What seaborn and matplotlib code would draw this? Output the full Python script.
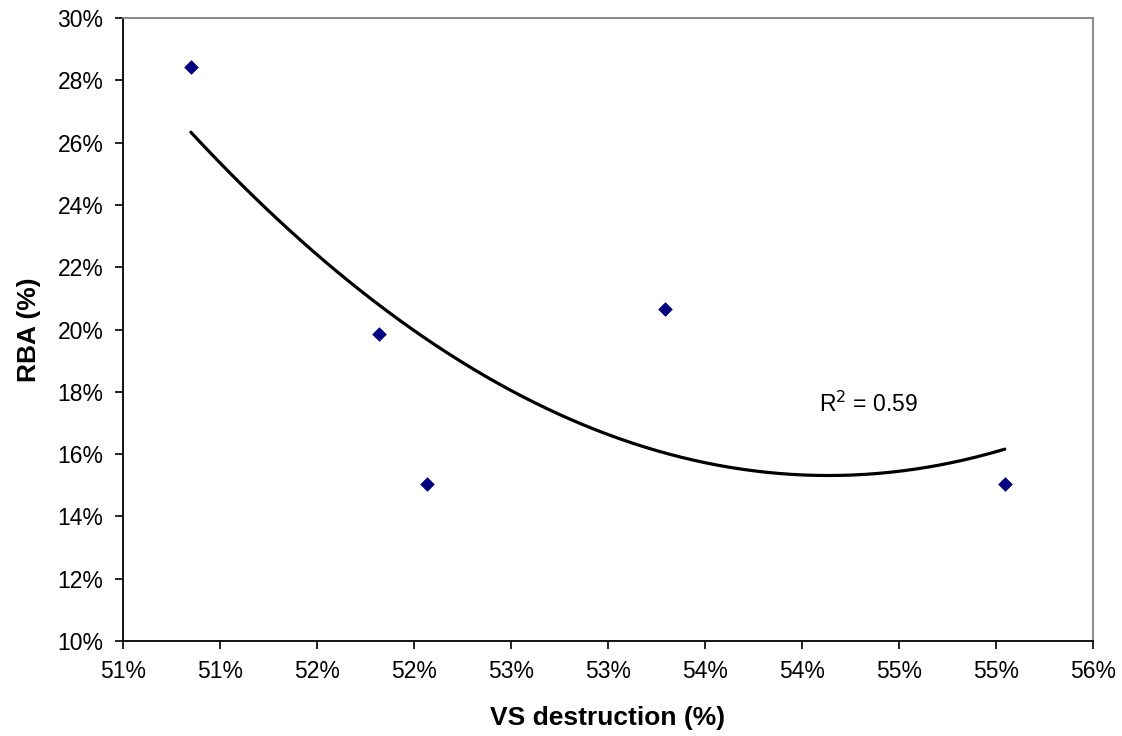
import numpy as np
import pandas as pd
import matplotlib
matplotlib.use("Agg")
import matplotlib.pyplot as plt
import seaborn as sns
from matplotlib.ticker import FuncFormatter

# Data (percent)
vs_destruction = [50.85, 51.82, 52.065, 53.295, 55.045]
rba = [28.43, 19.84, 15.05, 20.65, 15.03]
r2_label = "R$^{2}$ = 0.59"

x_ticks = [50.5, 51.0, 51.5, 52.0, 52.5, 53.0, 53.5, 54.0, 54.5, 55.0, 55.5]
y_ticks = [10, 12, 14, 16, 18, 20, 22, 24, 26, 28, 30]

sns.set_theme(style="white")
plt.rcParams['font.family'] = ['Liberation Sans', 'DejaVu Sans']

df = pd.DataFrame({"x": vs_destruction, "y": rba})
coef = np.polyfit(df.x, df.y, 2)
xs = np.linspace(min(vs_destruction), max(vs_destruction), 200)
fit = pd.DataFrame({"x": xs, "y": np.polyval(coef, xs)})

fig = plt.figure(figsize=(11.22, 7.36), dpi=100)
ax = fig.add_axes([0.1096, 0.1291, 0.9742 - 0.1096, 0.9755 - 0.1291])

sns.lineplot(data=fit, x="x", y="y", ax=ax, color="black", linewidth=2.3, sort=False)
sns.scatterplot(data=df, x="x", y="y", ax=ax, marker="D", s=48, color="#000080",
                edgecolor="#000080", linewidth=0.5, zorder=3)

ax.set_xlim(x_ticks[0], x_ticks[-1])
ax.set_ylim(y_ticks[0], y_ticks[-1])
ax.set_xticks(x_ticks)
ax.set_yticks(y_ticks)
ax.xaxis.set_major_formatter(FuncFormatter(lambda v, p: f"{int(np.floor(v + 0.5))}%"))
ax.yaxis.set_major_formatter(FuncFormatter(lambda v, p: f"{v:.0f}%"))

ax.tick_params(axis="both", which="major", direction="out", length=6, width=1.2,
               color="black", labelsize=16.5, labelcolor="black", pad=8,
               bottom=True, left=True)
for side in ["left", "bottom"]:
    ax.spines[side].set_color("black")
    ax.spines[side].set_linewidth(1.3)
for side in ["top", "right"]:
    ax.spines[side].set_color("#808080")
    ax.spines[side].set_linewidth(1.3)
    ax.spines[side].set_visible(True)

ax.set_xlabel("VS destruction (%)", fontsize=19, fontweight="bold", labelpad=16, color="black")
ax.set_ylabel("RBA (%)", fontsize=19, fontweight="bold", labelpad=12, color="black")

ax.text(54.09, 17.35, r2_label, fontsize=16.5, color="black", ha="left", va="baseline")

fig.savefig("out.png", dpi=100)
